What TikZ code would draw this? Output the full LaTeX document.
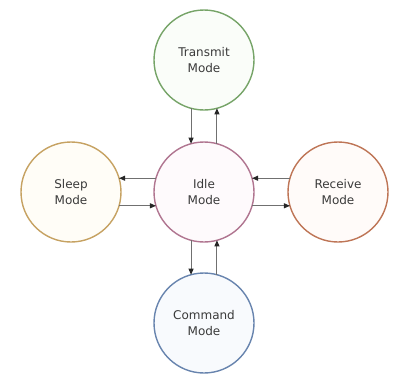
\documentclass[tikz,border=0pt]{standalone}
\usepackage{fontspec}
\setmainfont{DejaVu Sans}
\usetikzlibrary{arrows.meta}
\definecolor{txline}{HTML}{76A468}
\definecolor{txfill}{HTML}{FAFDF9}
\definecolor{idline}{HTML}{B07590}
\definecolor{idfill}{HTML}{FEFAFC}
\definecolor{slline}{HTML}{C6A262}
\definecolor{slfill}{HTML}{FFFDF7}
\definecolor{rxline}{HTML}{BE7556}
\definecolor{rxfill}{HTML}{FFFBF9}
\definecolor{cmline}{HTML}{6884AE}
\definecolor{cmfill}{HTML}{F8FAFD}
\definecolor{txtcol}{HTML}{3A3A3A}
\definecolor{arrcol}{HTML}{707070}
\tikzset{
  state/.style={circle, minimum size=100pt, inner sep=0pt, outer sep=0pt, line width=1.4pt,
    align=center, font=\fontsize{12}{15.5}\selectfont, text=txtcol},
  conn/.style={draw=arrcol, line width=0.9pt, -{Triangle[length=6pt,width=5pt,fill=black!85,color=black!85]}}
}
\begin{document}
\begin{tikzpicture}[x=1pt,y=-1pt]
\useasboundingbox (0,0) rectangle (394,381);
\node[state, draw=txline, fill=txfill] (trans) at (204,60) {Transmit\\Mode};
\node[state, draw=idline, fill=idfill] (idle) at (204,192) {Idle\\Mode};
\node[state, draw=slline, fill=slfill] (sleep) at (71,192) {Sleep\\Mode};
\node[state, draw=rxline, fill=rxfill] (recv) at (338,192) {Receive\\Mode};
\node[state, draw=cmline, fill=cmfill] (cmd) at (204,323) {Command\\Mode};
% vertical connectors
\draw[conn] (trans.255) -- (idle.105);
\draw[conn] (idle.75) -- (trans.285);
\draw[conn] (idle.255) -- (cmd.105);
\draw[conn] (cmd.75) -- (idle.285);
% horizontal connectors
\draw[conn] (idle.164) -- (sleep.16);
\draw[conn] (sleep.344) -- (idle.196);
\draw[conn] (recv.164) -- (idle.16);
\draw[conn] (idle.344) -- (recv.196);
\end{tikzpicture}
\end{document}
